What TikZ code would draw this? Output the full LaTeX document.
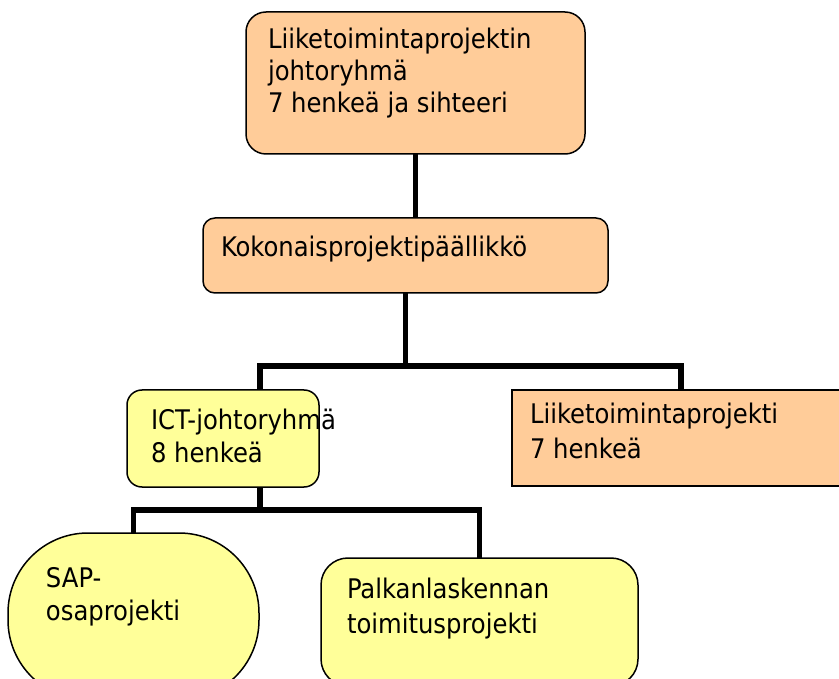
\documentclass[tikz,border=0pt]{standalone}
\usepackage{fontspec}
\setmainfont{DejaVu Sans Condensed}
\usetikzlibrary{calc}
\definecolor{orangefill}{HTML}{FFCC99}
\definecolor{yellowfill}{HTML}{FFFF99}
\newcommand{\bxt}[6]{\parbox[b][#2][t]{#1}{\raggedright\leftskip=#3\relax\exhyphenpenalty=10000\relax\hyphenpenalty=10000\relax\hbadness=10000\relax\hfuzz=200pt\relax\fontsize{27pt}{#5}\selectfont\rule{0pt}{#4}#6}}
\tikzset{
  orgbox/.style={draw=black, line width=1.5pt, inner sep=0pt, outer sep=0pt, anchor=north west},
  obox/.style={orgbox, fill=orangefill},
  ybox/.style={orgbox, fill=yellowfill},
  conn/.style={draw=black, line width=5.5pt, line join=miter}
}
\begin{document}
\begin{tikzpicture}[x=1pt, y=-1pt]
\useasboundingbox (0,0) rectangle (839,679);
\clip (0,0) rectangle (839,679);
\fill[white] (0,0) rectangle (839,679);

\node[obox, rounded corners=20pt] (top) at (246,12)
  {\bxt{339pt}{142pt}{22pt}{37pt}{32pt}{Liiketoimintaprojektin\\johtoryhmä\\7 henkeä ja sihteeri}};
\node[obox, rounded corners=12pt] (kok) at (203,218)
  {\bxt{405pt}{75pt}{18pt}{39pt}{32pt}{Kokonaisprojektipäällikkö}};
\node[ybox, rounded corners=15pt] (ict) at (127,390)
  {\bxt{192pt}{97pt}{24pt}{39pt}{33pt}{ICT-johtoryhmä\\8 henkeä}};
\node[obox] (liike) at (512,390)
  {\bxt{340pt}{96pt}{18pt}{33pt}{35pt}{Liiketoimintaprojekti\\7 henkeä}};
\node[ybox, rounded corners=80pt] (sap) at (8,533)
  {\bxt{251pt}{167pt}{38pt}{54pt}{33pt}{SAP-\\osaprojekti}};
\node[ybox, rounded corners=27pt] (palk) at (321,558)
  {\bxt{317pt}{128pt}{26pt}{40pt}{35pt}{Palkanlaskennan\\toimitusprojekti}};

\draw[conn] (top.south) -- (top.south |- kok.north);
\coordinate (hub1) at ($(kok.south)+(0,73)$);
\draw[conn] (kok.south) -- (hub1);
\draw[conn] ([xshift=133pt]ict.north west) |- (hub1) -| ([xshift=169pt]liike.north west);
\coordinate (hub2) at ($([xshift=133pt]ict.south west)+(0,23)$);
\draw[conn] ([xshift=133pt]ict.south west) -- (hub2);
\draw[conn] (sap.north) |- (hub2) -| (palk.north);
\end{tikzpicture}
\end{document}
